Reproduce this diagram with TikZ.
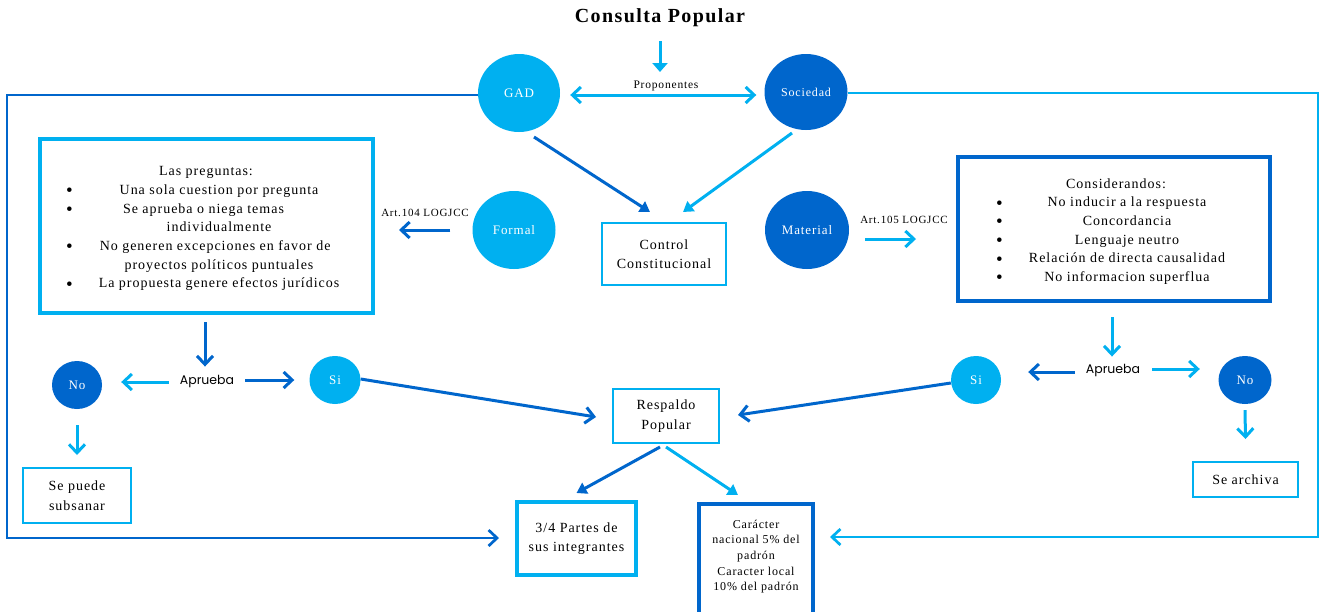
\documentclass[tikz,border=0pt]{standalone}
\usepackage{fontspec}
\setmainfont{Liberation Serif}[LetterSpace=7]
\newfontfamily\apfont{Poppins}
\usepackage{array}
\usetikzlibrary{arrows.meta,calc,shapes.geometric}
\definecolor{lb}{HTML}{00B0F0}
\definecolor{db}{HTML}{0066CC}
\newcommand\bigbul{\raisebox{-2.5pt}{\fontsize{19}{14}\selectfont\textbullet}}
\begin{document}
\begin{tikzpicture}[x=1pt,y=-1pt,
  lcirc/.style={ellipse, fill=lb, text=white, inner sep=0pt, font=\fontsize{13}{15}\selectfont},
  dcirc/.style={ellipse, fill=db, text=white, inner sep=0pt, font=\fontsize{13}{15}\selectfont},
  txt/.style={inner sep=0pt, align=center, font=\fontsize{14}{19.5}\selectfont},
  lbox/.style={draw=lb, rectangle, inner sep=0pt},
  dbox/.style={draw=db, rectangle, inner sep=0pt},
  barb/.style={-{Straight Barb[length=8.5pt,width=16pt]}},
  larr/.style={draw=lb, line width=3pt, barb},
  darr/.style={draw=db, line width=3pt, barb},
  lfill/.style={draw=lb, line width=3pt, -{Triangle[length=10pt,width=12pt]}},
  dfill/.style={draw=db, line width=3pt, -{Triangle[length=10pt,width=12pt]}},
  small/.style={inner sep=0pt, font=\fontsize{11}{13}\selectfont},
  apr/.style={inner sep=0pt, font=\apfont\fontsize{12.5}{14}\selectfont},
]
\useasboundingbox (0,0) rectangle (1319,611);
\fill[white] (0,0) rectangle (1319,611);

% title
\node[inner sep=0pt, font=\bfseries\fontsize{20}{24}\selectfont] (title) at (660,18) {Consulta Popular};
\coordinate (propc) at (660,72);
\draw[lfill, -{Triangle[length=9pt,width=15pt]}, shorten <=14pt] (title.south) -- (propc);

% proponentes
\node[lcirc, minimum width=82pt, minimum height=78pt] (gad) at (519,93) {GAD};
\node[dcirc, minimum width=83pt, minimum height=76pt, font=\fontsize{12}{14}\selectfont] (soc) at (806,92) {Sociedad};
\draw[lb, line width=3pt, {Straight Barb[length=8.5pt,width=16pt]}-{Straight Barb[length=8.5pt,width=16pt]}]
  ($(gad.east)+(10,2)$) -- ($(soc.west)+(-8,3)$);
\node[inner sep=0pt, font=\fontsize{11.5}{13}\selectfont] (prop) at (666,86) {Proponentes};

% control
\node[lbox, line width=2pt, minimum width=124pt, minimum height=62pt, txt] (ctrl) at (664,254) {Control\\Constitucional};
\draw[dfill] ($(gad.center)+(15,44)$) -- ($(ctrl.north)+(-14,-10)$);
\draw[lfill] ($(soc.center)+(-14,41)$) -- ($(ctrl.north)+(19,-10)$);

% formal
\node[lcirc, minimum width=83pt, minimum height=78pt] (formal) at (514,230) {Formal};
\node[small] (art104) at (425,213) {Art.104 LOGJCC};
\node[lbox, line width=4pt, minimum width=333pt, minimum height=174pt] (preg) at (206.5,226) {};
\node[inner sep=0pt, font=\fontsize{14}{18.7}\selectfont] (pregtxt) at (206,228) {%
 \begin{tabular}{@{}p{26pt}@{}>{\centering\arraybackslash}p{254pt}@{}}
 \multicolumn{2}{c}{Las preguntas:}\\
 \bigbul & Una sola cuestion por pregunta\\
 \bigbul & Se aprueba o niega temas\newline individualmente\\
 \bigbul & No generen excepciones en favor de\newline proyectos políticos puntuales\\
 \bigbul & La propuesta genere efectos jurídicos
 \end{tabular}};
\draw[darr] ($(formal.west)+(-22,0)$) -- ($(preg.east)+(24,4)$);

% material
\node[dcirc, minimum width=84pt, minimum height=78pt] (mat) at (807,230) {Material};
\node[small] (art105) at (904,220) {Art.105 LOGJCC};
\node[dbox, line width=4pt, minimum width=312pt, minimum height=144pt] (cons) at (1114,229) {};
\node[inner sep=0pt, font=\fontsize{14}{18.6}\selectfont] (constxt) at (1116,231) {%
 \begin{tabular}{@{}p{22pt}@{}>{\centering\arraybackslash}p{218pt}@{}}
 \multicolumn{2}{c}{Considerandos:}\\
 \bigbul & No inducir a la respuesta\\
 \bigbul & Concordancia\\
 \bigbul & Lenguaje neutro\\
 \bigbul & Relación de directa causalidad\\
 \bigbul & No informacion superflua
 \end{tabular}};
\draw[larr] ($(mat.east)+(16,9)$) -- ($(cons.west)+(-40,10)$);

% left decision
\node[apr] (apL) at (207,381) {Aprueba};
\node[dcirc, minimum width=50pt, minimum height=48pt] (noL) at (77,385) {No};
\node[lcirc, minimum width=51pt, minimum height=48pt] (siL) at (335,380) {Si};
\draw[darr] ($(preg.south)+(-1.5,7)$) -- ($(apL.north)+(-2,-8)$);
\draw[larr] ($(apL.west)+(-11,1)$) -- ($(noL.east)+(19,-3)$);
\draw[darr] ($(apL.east)+(11,-1)$) -- ($(siL.west)+(-15,0)$);
\node[lbox, line width=2pt, minimum width=108pt, minimum height=55pt, txt] (sub) at (77,495.5) {Se puede\\subsanar};
\draw[larr] ($(noL.south)+(0,16)$) -- ($(sub.north)+(0,-12)$);

% respaldo
\node[lbox, line width=2pt, minimum width=106pt, minimum height=54pt, txt] (resp) at (666,416) {Respaldo\\Popular};
\draw[darr] ($(siL.east)+(0,-1)$) -- ($(resp.west)+(-16,1)$);

% right decision
\node[apr] (apR) at (1113,370) {Aprueba};
\node[lcirc, minimum width=50pt, minimum height=48pt] (siR) at (976,380) {Si};
\node[dcirc, minimum width=53pt, minimum height=48pt] (noR) at (1245,380) {No};
\draw[larr] ($(cons.south)+(-2,14)$) -- ($(apR.north)+(-1,-7)$);
\draw[darr] ($(apR.west)+(-11,2)$) -- ($(siR.east)+(27,-8)$);
\draw[larr] ($(apR.east)+(12,-1)$) -- ($(noR.west)+(-18.5,-11)$);
\node[lbox, line width=2pt, minimum width=105pt, minimum height=35pt, txt] (arch) at (1245.5,479.5) {Se archiva};
\draw[larr] ($(noR.south)+(0,6)$) -- ($(arch.north)+(0,-22)$);
\draw[darr] ($(siR.west)+(0,3)$) -- ($(resp.east)+(18,-1)$);

% bottom boxes
\node[lbox, line width=4pt, minimum width=119pt, minimum height=73pt, txt] (q34) at (576.5,538.5) {3/4 Partes de\\sus integrantes};
\node[dbox, line width=4pt, minimum width=114pt, minimum height=125pt, anchor=north] (car) at (756,502) {};
\node[inner sep=0pt, align=center, font=\fontsize{12}{15.7}\selectfont] (cartxt) at (756,556.5) {Carácter\\nacional 5\% del\\padrón\\Caracter local\\10\% del padrón};
\draw[dfill] ($(resp.south)+(-6,3)$) -- ($(q34.north)+(0,-7)$);
\draw[lfill] ($(resp.south)+(0,3)$) -- ($(car.north)+(-18,-7)$);

% outer loops
\coordinate (cTL) at (7,95);
\coordinate (cBL) at (7,538);
\coordinate (cTR) at (1318,93);
\coordinate (cBR) at (1318,537);
\draw[db, line width=2.7pt, barb] (gad.west |- cTL) -- (cTL) -- (cBL) -- ($(q34.west |- cBL)+(-16,0)$);
\draw[lb, line width=2.7pt, barb] (soc.east |- cTR) -- (cTR) -- (cBR) -- ($(car.east |- cBR)+(15,0)$);
\end{tikzpicture}
\end{document}
